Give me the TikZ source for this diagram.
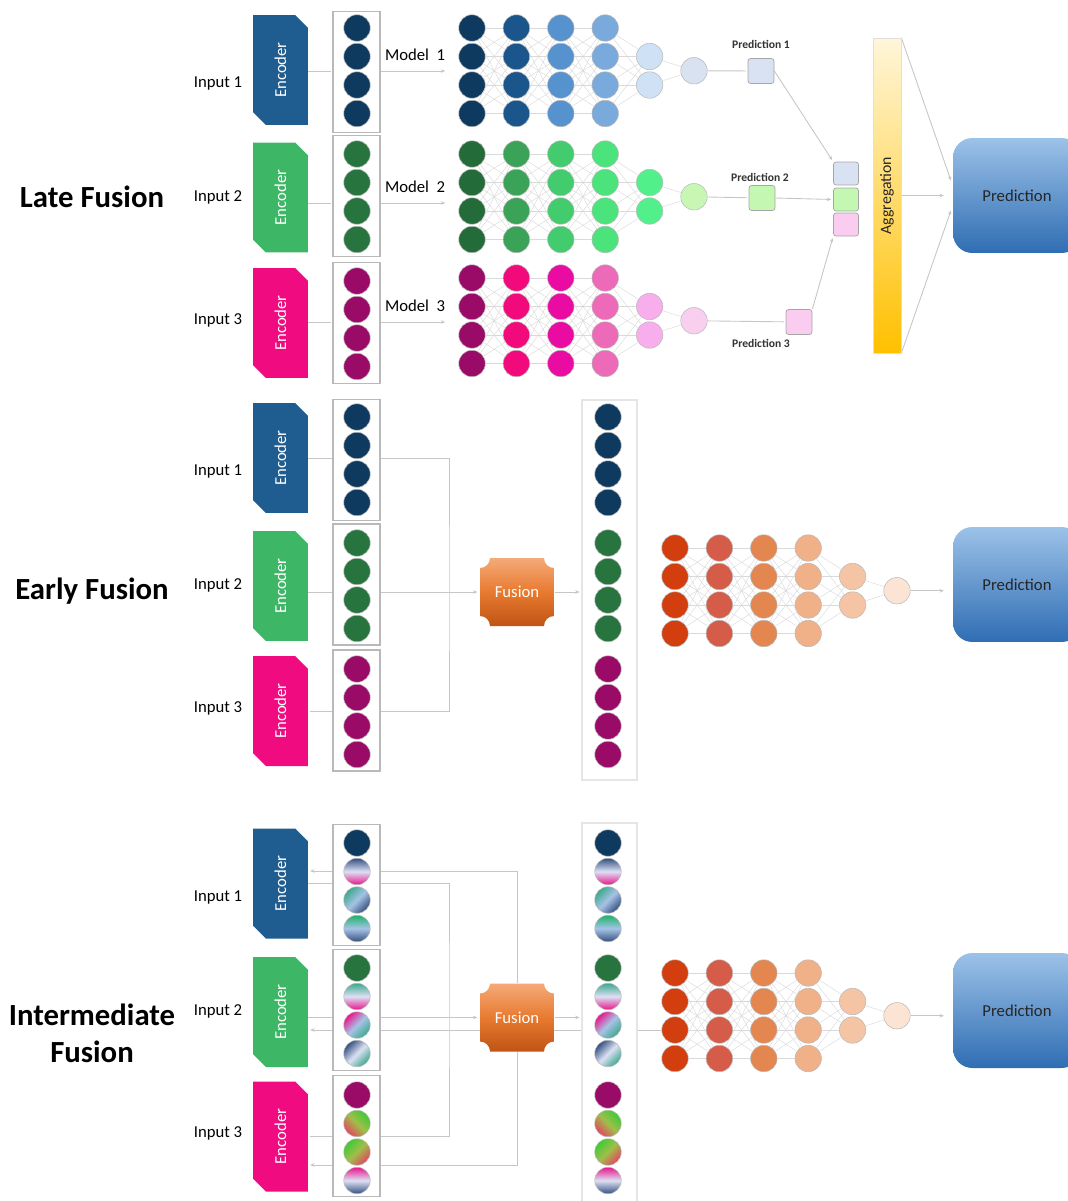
\documentclass[tikz,border=0pt]{standalone}
\usepackage{fontspec}
\setmainfont{Carlito}
\usetikzlibrary{shapes,arrows.meta,backgrounds}

\definecolor{encblue}{HTML}{1F5C8F}
\definecolor{encgreen}{HTML}{3DB766}
\definecolor{encmag}{HTML}{F00B80}
\definecolor{cnavy}{HTML}{0F3A5F}
\definecolor{cgreen}{HTML}{27743E}
\definecolor{cmag}{HTML}{9A0A67}
\definecolor{nb1}{HTML}{0F3A5F}
\definecolor{nb2}{HTML}{1A568C}
\definecolor{nb3}{HTML}{5592CE}
\definecolor{nb4}{HTML}{7AAADC}
\definecolor{nb5}{HTML}{CFE1F5}
\definecolor{nb6}{HTML}{D9E2F0}
\definecolor{ng1}{HTML}{236B38}
\definecolor{ng2}{HTML}{3AA358}
\definecolor{ng3}{HTML}{43CC6E}
\definecolor{ng4}{HTML}{4BE37C}
\definecolor{ng5}{HTML}{52F08A}
\definecolor{ng6}{HTML}{C8F7B4}
\definecolor{nm1}{HTML}{9A0A67}
\definecolor{nm2}{HTML}{F20A7C}
\definecolor{nm3}{HTML}{EA0BA3}
\definecolor{nm4}{HTML}{EC6AB7}
\definecolor{nm5}{HTML}{F8AEEC}
\definecolor{nm6}{HTML}{F9CFEF}
\definecolor{no1}{HTML}{D23E0E}
\definecolor{no2}{HTML}{D45C48}
\definecolor{no3}{HTML}{E4864F}
\definecolor{no4}{HTML}{F0B088}
\definecolor{no5}{HTML}{F4C4A4}
\definecolor{no6}{HTML}{FBE4D4}
\definecolor{predtop}{HTML}{9CC2E8}
\definecolor{predbot}{HTML}{2F6DB3}
\definecolor{aggtop}{HTML}{FFF6DA}
\definecolor{aggbot}{HTML}{FFC000}
\definecolor{fustop}{HTML}{F4AA78}
\definecolor{fusmid}{HTML}{E87A30}
\definecolor{fusbot}{HTML}{BF5414}
\definecolor{mixnavy}{HTML}{34507F}
\definecolor{mixmag}{HTML}{E8168C}
\definecolor{mixlight}{HTML}{DCE0F4}
\definecolor{mixblue}{HTML}{A6C3E6}
\definecolor{mixteal}{HTML}{3EA88E}
\definecolor{mixgreen}{HTML}{1DB36A}
\definecolor{mixlime}{HTML}{3FCB35}
\definecolor{mixred}{HTML}{E3465F}
\definecolor{mixolive}{HTML}{A0BE4A}
\definecolor{pblue}{HTML}{D9E2F3}
\definecolor{pgreen}{HTML}{C4F7B2}
\definecolor{ppink}{HTML}{F9CCF0}

\begin{document}
\begin{tikzpicture}[x=0.02cm,y=-0.02cm]
  \tikzstyle{neuron}=[circle,draw=gray!55,line width=0.3pt,minimum size=0.53cm,inner sep=0pt]
  \tikzstyle{wire}=[draw=gray!30,line width=0.25pt]
  \tikzstyle{conn}=[draw=gray!45,line width=0.5pt,>={Stealth[length=2.5pt,width=2pt]},shorten >=1pt]
  \tikzstyle{encoder}=[chamfered rectangle,chamfered rectangle corners={north east,south west},chamfered rectangle sep=4pt,minimum width=1.1cm,minimum height=2.2cm,inner sep=0pt,text=white,font=\fontsize{9.5}{11}\selectfont]
  \tikzstyle{colbox}=[draw=gray!55,line width=0.7pt,fill=white,minimum width=0.94cm,minimum height=2.42cm,inner sep=0pt]
  \tikzstyle{bigcol}=[draw=gray!20,line width=0.7pt,fill=white,minimum width=1.1cm,minimum height=7.6cm,inner sep=0pt]
  \tikzstyle{lbl}=[font=\fontsize{9.5}{11}\selectfont]
  \tikzstyle{plabel}=[font=\fontsize{6.6}{8}\selectfont\bfseries,text=black!80]
  \tikzstyle{heading}=[font=\fontsize{17.5}{21}\selectfont\bfseries,align=center]
  \tikzstyle{pred}=[rounded corners=11pt,top color=predtop,bottom color=predbot,minimum width=2.56cm,minimum height=2.3cm,lbl,text=black!85]
  \tikzstyle{psq}=[draw=gray!70,line width=0.4pt,rounded corners=1.5pt,minimum width=0.52cm,minimum height=0.5cm,inner sep=0pt]
  \tikzstyle{fustext}=[minimum width=1.5cm,minimum height=1.36cm,text=white,lbl]
  \tikzstyle{sn}=[fill=cnavy]
  \tikzstyle{sg}=[fill=cgreen]
  \tikzstyle{sm}=[fill=cmag]
  \tikzstyle{gA}=[top color=mixnavy,bottom color=mixmag,middle color=mixlight]
  \tikzstyle{gB}=[top color=mixteal,bottom color=mixnavy,middle color=mixblue,shading angle=45]
  \tikzstyle{gC}=[top color=mixgreen,bottom color=mixnavy,middle color=mixblue]
  \tikzstyle{gD}=[top color=mixteal,bottom color=mixmag,middle color=mixlight]
  \tikzstyle{gE}=[top color=mixmag,bottom color=mixteal,middle color=mixblue,shading angle=45]
  \tikzstyle{gF}=[top color=mixnavy,bottom color=mixteal,middle color=mixlight,shading angle=45]
  \tikzstyle{gG}=[top color=mixlime,bottom color=mixred,middle color=mixolive,shading angle=-45]
  \tikzstyle{gH}=[top color=mixlime,bottom color=mixred,middle color=mixolive,shading angle=45]
  \tikzstyle{gI}=[top color=mixmag,bottom color=mixnavy,middle color=mixlight]

  \useasboundingbox (0,0) rectangle (1068,1201);

  \node[heading] (late) at (92,197) {Late Fusion};
  \node[heading] (early) at (92,591) {Early Fusion};
  \node[heading] (inter) at (92,1033) {Intermediate\\Fusion};

  \foreach \n/\yy/\cl/\iy/\k in {lenc1/70/encblue/83/1, lenc2/197.5/encgreen/197/2, lenc3/323/encmag/320/3,
      eenc1/458/encblue/471/1, eenc2/586/encgreen/585/2, eenc3/711/encmag/708/3,
      ienc1/883.5/encblue/897/1, ienc2/1012/encgreen/1011/2, ienc3/1136.5/encmag/1133/3} {
    \node[encoder,fill=\cl] (\n) at (280.5,\yy) {\rotatebox{90}{Encoder}};
    \node[lbl] (in-\n) at (218,\iy) {Input \k};
  }

  \foreach \n/\yy in {lcol1/72, lcol2/196, lcol3/323, ecol1/460, ecol2/584.5, ecol3/710.5, icol1/885, icol2/1010, icol3/1136}
    \node[colbox] (\n) at (356.5,\yy) {};
  \node[bigcol] (ercol) at (609.5,590) {};
  \node[bigcol] (ircol) at (609.5,1013) {};

  \foreach \g/\xx/\yy/\cl in {l1/357/28/cnavy, l2/357/154/cgreen, l3/357/281/cmag,
      e1/357/417/cnavy, e2/357/543/cgreen, e3/357/669/cmag,
      r1/608/417/cnavy, r2/608/543/cgreen, r3/608/669/cmag}
    \foreach \r in {1,...,4}
      \node[neuron,fill=\cl] (\g-\r) at (\xx,\yy+28.5*\r-28.5) {};

  \foreach \xx/\p in {357/u, 608/v}
    \foreach \g/\yy/\sa/\sb/\sc/\sd in {1/843/sn/gA/gB/gC, 2/968/sg/gD/gE/gF, 3/1095/sm/gG/gH/gI} {
      \node[neuron,\sa] (\p\g-1) at (\xx,\yy) {};
      \node[neuron,\sb] (\p\g-2) at (\xx,\yy+28.5) {};
      \node[neuron,\sc] (\p\g-3) at (\xx,\yy+57) {};
      \node[neuron,\sd] (\p\g-4) at (\xx,\yy+85.5) {};
    }

  \foreach \n/\yy in {fus1/592, fus2/1017.5} {
    \shade[top color=fustop,bottom color=fusbot,middle color=fusmid]
      (490,\yy-34) -- (544,\yy-34) arc[start angle=180,end angle=270,radius=0.2cm]
      -- (554,\yy+24) arc[start angle=90,end angle=180,radius=0.2cm]
      -- (490,\yy+34) arc[start angle=0,end angle=90,radius=0.2cm]
      -- (480,\yy-24) arc[start angle=270,end angle=360,radius=0.2cm] -- cycle;
    \node[fustext] (\n) at (517,\yy) {Fusion};
  }

  \foreach \nn/\xx/\yy/\cl in {a/472/28/nb, b/472/154/ng, c/472/278/nm, e/675/548/no, f/675/973/no} {
    \foreach \l in {1,...,4}
      \foreach \r in {1,...,4}
        \node[neuron,fill=\cl\l] (\nn\l-\r) at (\xx+44.4*\l-44.4,\yy+28.5*\r-28.5) {};
    \foreach \r in {2,3}
      \node[neuron,fill=\cl5] (\nn5-\r) at (\xx+177.6,\yy+28.5*\r-28.5) {};
    \node[neuron,fill=\cl6] (\nn6) at (\xx+222,\yy+42.75) {};
    \foreach \l/\m in {1/2,2/3,3/4}
      \foreach \r in {1,...,4}
        \foreach \s in {1,...,4}
          \draw[wire] (\nn\l-\r) -- (\nn\m-\s);
    \foreach \r in {1,...,4}
      \foreach \s in {2,3}
        \draw[wire] (\nn4-\r) -- (\nn5-\s);
    \foreach \s in {2,3}
      \draw[wire] (\nn5-\s) -- (\nn6);
  }

  \foreach \k/\yy in {1/71, 2/203, 3/322} {
    \coordinate (m\k) at (447,\yy);
    \node[lbl] (mod\k) at (415,\yy-16) {Model~~\k};
  }

  \node[psq,fill=pblue] (p1) at (761,71) {};
  \node[psq,fill=pgreen] (p2) at (762,198) {};
  \node[psq,fill=ppink] (p3) at (799,322) {};
  \node[plabel] (pl1) at (761,44) {Prediction 1};
  \node[plabel] (pl2) at (760,177) {Prediction 2};
  \node[plabel] (pl3) at (761,343) {Prediction 3};
  \node[psq,fill=pblue,minimum width=0.5cm,minimum height=0.46cm] (s1) at (846,173.5) {};
  \node[psq,fill=pgreen,minimum width=0.5cm,minimum height=0.46cm] (s2) at (846,199.5) {};
  \node[psq,fill=ppink,minimum width=0.5cm,minimum height=0.46cm] (s3) at (846,224.5) {};

  \node[draw=gray!25,top color=aggtop,bottom color=aggbot,minimum width=0.56cm,minimum height=6.3cm,inner sep=0pt,font=\fontsize{9}{11}\selectfont,text=black!85] (agg) at (887,195.5) {\rotatebox{90}{Aggregation}};

  \foreach \n/\yy in {pr1/195.5, pr2/584.5, pr3/1010.5}
    \node[pred] (\n) at (1017,\yy) {Prediction};

  \coordinate (j1) at (449,592);
  \coordinate (j2) at (449,1000);
  \coordinate (k1) at (517,871);
  \coordinate (k3) at (517,1165);

  \begin{pgfonlayer}{background}
    \foreach \k in {1,2,3} {
      \draw[conn] (lenc\k.east |- m\k) -- (lcol\k.west |- m\k);
      \draw[conn,->] (lcol\k.east |- m\k) -- (m\k);
    }
    \draw[conn] (a6) -- (p1);
    \draw[conn] (b6) -- (p2);
    \draw[conn] (c6) -- (p3);
    \draw[conn,->] (p1.east) -- (s1.north west);
    \draw[conn,->] (p2.east) -- (s2.west);
    \draw[conn,->] (p3.north east) -- (s3.south west);
    \draw[conn,->,shorten >=3pt] (agg.north east) -- ([yshift=0.2cm]pr1.west);
    \draw[conn,->,shorten >=5pt] (agg.east) -- (pr1.west);
    \draw[conn,->,shorten >=3pt] (agg.south east) -- ([yshift=-0.2cm]pr1.west);

    \draw[conn] (eenc1.east) -| (j1) |- (eenc3.east);
    \draw[conn,->] (eenc2.east |- fus1.west) -- (fus1.west);
    \draw[conn,->] (fus1.east) -- (ercol.west |- fus1.east);
    \draw[conn,->,shorten >=5pt] (e6) -- (pr2.west |- e6);

    \draw[conn] (ienc1.east) -| (j2) |- (ienc3.east);
    \draw[conn,->] (ienc2.east |- fus2.west) -- (fus2.west);
    \draw[conn,->] (fus2.east) -- (ircol.west |- fus2.east);
    \draw[conn,->] (f1-3.west) -- (ienc2.east |- f1-3.west);
    \draw[conn,->] (fus2.north) -- (k1) -- (ienc1.east |- k1);
    \draw[conn,->] (fus2.south) -- (k3) -- (ienc3.east |- k3);
    \draw[conn,->,shorten >=5pt] (f6) -- (pr3.west |- f6);
  \end{pgfonlayer}
\end{tikzpicture}
\end{document}
